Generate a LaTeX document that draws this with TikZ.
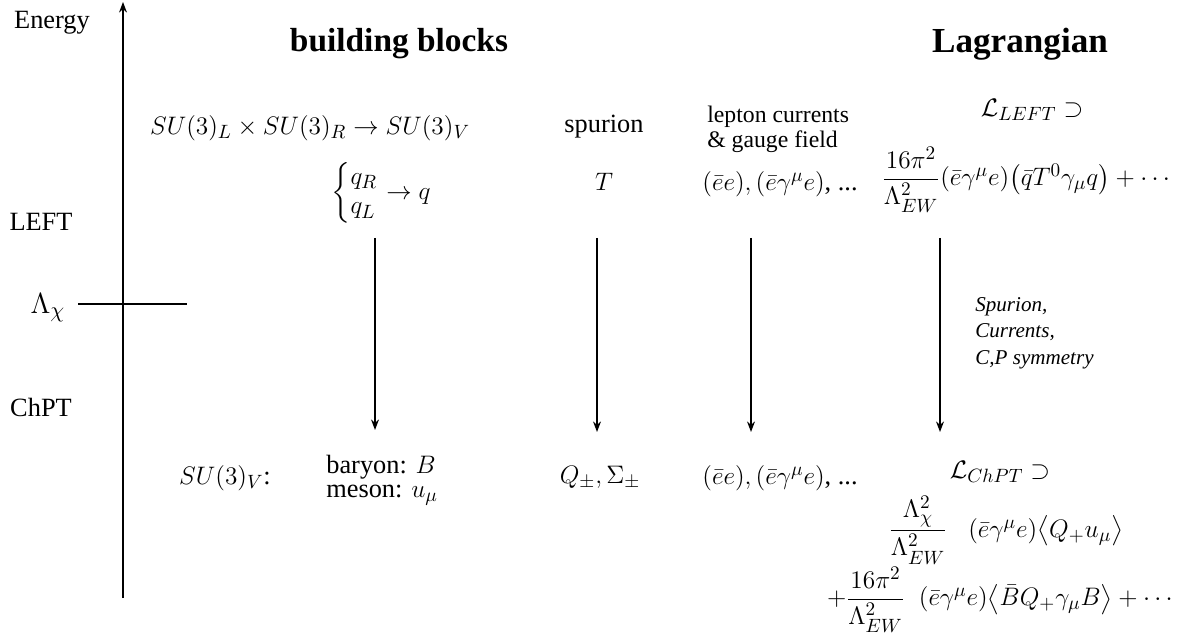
\documentclass[tikz,border=0pt]{standalone}
\usepackage{amsmath}
\usepackage[no-math]{fontspec}
\setmainfont{Liberation Serif}
\usetikzlibrary{arrows.meta}
\begin{document}
\begin{tikzpicture}[x=0.02cm,y=-0.02cm,
  txt/.style={font=\fontsize{15}{17}\selectfont, inner sep=0pt},
  small/.style={font=\fontsize{13.5}{14.2}\selectfont, inner sep=0pt, align=left, anchor=west},
  ttl/.style={font=\fontsize{19}{22}\selectfont\bfseries, inner sep=0pt},
  ttlb/.style={font=\fontsize{20}{23}\selectfont\bfseries, inner sep=0pt},
  note/.style={font=\fontsize{12}{14}\selectfont\itshape, inner sep=0pt, align=left, anchor=north west},
  axisline/.style={line width=0.85pt},
  conn/.style={line width=0.85pt, -{Stealth[length=6pt,width=4.5pt]}}]
\useasboundingbox (0,0) rectangle (1179,641);
% labels on the energy axis
\node[txt] (energy) at (52,23) {Energy};
\node[txt] (left) at (41,222) {LEFT};
\node[txt] (chpt) at (41,407) {ChPT};
\node[txt, scale=1.15] (lamchi) at (48,308) {$\Lambda_\chi$};
% titles
\node[ttl] (bb) at (399,44) {building blocks};
\node[ttlb] (lag) at (1020,44) {Lagrangian};
% axis
\coordinate (axb) at (123,598);
\coordinate (axt) at (123,2);
\draw[axisline, -{Stealth[length=6pt,width=4.5pt]}] (axb) -- (axt);
\coordinate (tkl) at (78,304);
\coordinate (tkr) at (187,304);
\draw[axisline] (tkl) -- (tkr);
% top row
\node[txt] (sym) at (310,128) {$SU(3)_L\times SU(3)_R\rightarrow SU(3)_V$};
\node[txt] (quarks) at (381,193) {$\left\{\begin{array}{@{}l@{}}q_R\\ q_L\end{array}\right.\rightarrow q$};
\node[txt] (spur) at (604,127) {spurion};
\node[txt] (T) at (604,182) {$T$};
\node[small] (lept) at (707,129) {lepton currents\\ \& gauge field};
\node[txt] (curr) at (780,184) {$(\bar e e),(\bar e\gamma^\mu e)$, ...};
\node[txt] (LL) at (1032,110) {$\mathcal{L}_{LEFT}\supset$};
\node[txt] (LLexpr) at (1028,180) {$\dfrac{16\pi^2}{\Lambda_{EW}^2}(\bar e\gamma^\mu e)\big(\bar q T^0\gamma_\mu q\big)+\cdots$};
% arrows
\coordinate (a1s) at (375,238); \coordinate (a1e) at (375,430);
\coordinate (a2s) at (597,238); \coordinate (a2e) at (597,432);
\coordinate (a3s) at (751,238); \coordinate (a3e) at (751,432);
\coordinate (a4s) at (940,238); \coordinate (a4e) at (940,432);
\draw[conn] (a1s) -- (a1e);
\draw[conn] (a2s) -- (a2e);
\draw[conn] (a3s) -- (a3e);
\draw[conn] (a4s) -- (a4e);
\node[note] (rules) at (975,297) {Spurion,\\[1pt] Currents,\\[1pt] C,P symmetry};
% bottom row
\node[txt] (suv) at (225,478) {$SU(3)_V$:};
\node[txt, align=left, anchor=west, font=\fontsize{15}{14}\selectfont] (bm) at (326,480) {baryon: $B$\\ meson: $u_\mu$};
\node[txt] (Q) at (600,478) {$Q_\pm,\Sigma_\pm$};
\node[txt] (curr2) at (780,478) {$(\bar e e),(\bar e\gamma^\mu e)$, ...};
\node[txt] (LC) at (1000,472) {$\mathcal{L}_{ChPT}\supset$};
\node[txt] (LC1) at (1006,530) {$\dfrac{\Lambda_\chi^2}{\Lambda_{EW}^2}\;\;\;(\bar e\gamma^\mu e)\big\langle Q_+u_\mu\big\rangle$};
\node[txt] (LC2) at (1002,600) {$+\dfrac{16\pi^2}{\Lambda_{EW}^2}\;\;(\bar e\gamma^\mu e)\big\langle \bar B Q_+\gamma_\mu B\big\rangle+\cdots$};
\end{tikzpicture}
\end{document}
